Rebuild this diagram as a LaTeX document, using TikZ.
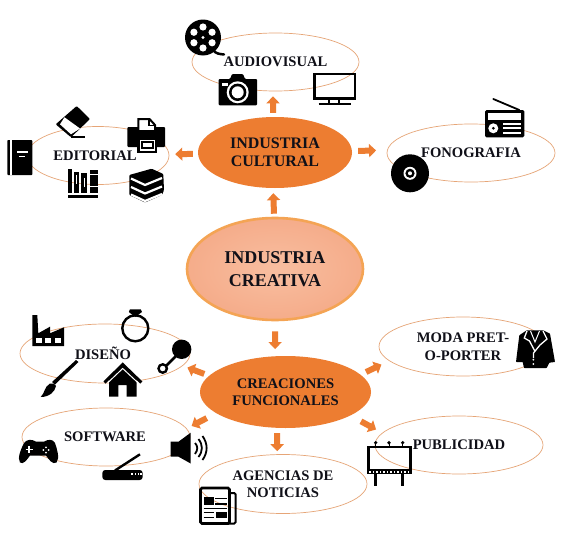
\documentclass[tikz,border=0pt]{standalone}
\usepackage{fontspec}
\setmainfont{Liberation Serif}
\usetikzlibrary{shapes.geometric,arrows.meta}
\definecolor{orangeA}{HTML}{ED7D31}
\definecolor{ringline}{HTML}{E6A577}
\definecolor{txt}{HTML}{101018}
\tikzset{
  outer/.style={ellipse,draw=ringline,line width=0.7pt,inner sep=0pt,align=center,text=txt,
    font=\fontsize{14.6}{17.5}\selectfont\bfseries},
  hub/.style={ellipse,fill=orangeA,inner sep=0pt,align=center,text=txt,
    font=\fontsize{14.6}{17.5}\selectfont\bfseries},
  hubbig/.style={hub,font=\fontsize{16}{18}\selectfont\bfseries},
  core/.style={ellipse,draw={rgb,255:red,244;green,164;blue,84},line width=2.6pt,inner color={rgb,255:red,248;green,190;blue,160},
    outer color={rgb,255:red,245;green,172;blue,138},inner sep=0pt,align=center,text=txt,
    font=\fontsize{18}{23}\selectfont\bfseries},
  blk/.style={draw=orangeA,line width=6pt,-{Triangle[length=7pt,width=13pt]},shorten <=#1},
  blk/.default=0pt,
  wl/.style={draw=white,line width=#1},
  wl/.default=1.5pt,
  bl/.style={draw=black,line width=#1},
  bl/.default=2.5pt
}
\begin{document}
\begin{tikzpicture}[x=1pt,y=-1pt]
\useasboundingbox (0,0) rectangle (563,538);
\fill[white] (0,0) rectangle (563,538);

% satellite ellipses
\node[outer,minimum width=167pt,minimum height=58pt] (audio) at (275.5,62) {AUDIOVISUAL};
\node[outer,minimum width=142pt,minimum height=58pt] (edit) at (98,155.5) {EDITORIAL\hspace*{6pt}};
\node[outer,minimum width=168pt,minimum height=58pt] (fono) at (471,153) {FONOGRAFIA};
\node[outer,minimum width=170pt,minimum height=59pt] (dis) at (105,353.5) {DISEÑO\hspace*{4pt}};
\node[outer,minimum width=168pt,minimum height=58pt] (soft) at (106,437) {SOFTWARE\hspace*{2pt}};
\node[outer,minimum width=168pt,minimum height=59pt] (agen) at (283,484) {AGENCIAS DE\\NOTICIAS};
\node[outer,minimum width=168pt,minimum height=59pt] (moda) at (463,346.5) {MODA PRET-\\O-PORTER};
\node[outer,minimum width=168pt,minimum height=58pt] (publi) at (459,445) {PUBLICIDAD};

% hubs
\node[hubbig,minimum width=154pt,minimum height=71pt] (cult) at (275,152.5) {INDUSTRIA\\CULTURAL};
\node[core,minimum width=176pt,minimum height=102pt] (crea) at (275,269) {INDUSTRIA\\CREATIVA};
\node[hub,minimum width=171pt,minimum height=72pt] (func) at (285.5,392) {CREACIONES\\FUNCIONALES};

% arrows
\draw[blk=4pt,shorten >=5pt] (cult.93) -- (audio.265);
\draw[blk=5pt,shorten >=6pt] (cult.181.1) -- (edit.1.2);
\draw[blk=6pt,shorten >=11pt] (cult.1.1) -- (fono.178.6);
\draw[blk=3pt,shorten >=5pt] (crea.91.3) -- (cult.267);
\draw[blk=10pt,shorten >=7pt] (crea.270) -- (func.106.4);
\draw[blk=5pt,shorten >=5pt] (func.168) -- (dis.-9.3);
\draw[blk=10.5pt,shorten >=5.5pt] (func.197.7) -- (soft.6);
\draw[blk=5pt,shorten >=3pt] (func.257) -- (agen.101.5);
\draw[blk=6pt,shorten >=8.5pt] (func.13.3) -- (moda.191.5);
\draw[blk=12pt,shorten >=7pt] (func.-20.6) -- (publi.171.2);

% film reel
\fill (203,37.5) circle[radius=18];
\draw[bl=2.5pt,line cap=round] (213,50) .. controls (216,54) and (220,54) .. (224,54.5);
\foreach \a in {90,150,210,270,330,30}
  \fill[white] (203,37.5) ++(\a:10.5pt) circle[radius=3.6];
\fill[white] (203,37.5) circle[radius=1.6];

% camera
\fill[rounded corners=1pt] (218.7,79) -- (230,79) -- (232,74) -- (243,74) -- (245,79) -- (257,79) -- (257,105.3) -- (218.7,105.3) -- cycle;
\fill[white] (237.7,92.3) circle[radius=11];
\fill (237.7,92.3) circle[radius=8.7];
\fill[white] (237.7,92.3) circle[radius=6];
\fill[white] (221.7,83.3) rectangle (227.5,86);

% television
\draw[bl=2.6pt] (314.6,74) rectangle (355,98.2);
\draw[bl=2pt] (329,99) -- (329,103.5) (339,99) -- (339,103.5);
\draw[bl=2pt] (318.5,104.3) -- (351,104.3);

% eraser
\fill[rounded corners=1pt] (76.7,106) -- (90,119) -- (71,137.3) -- (55.7,124.3) -- cycle;
\fill[white] (60,124.3) -- (64.5,117.3) -- (80,128.5) -- (71,134.3) -- cycle;
\draw[bl=1.8pt] (71,137.3) -- (85,137.3);

% printer
\fill[rounded corners=1pt] (127.3,127) rectangle (165,147);
\fill[white,draw=black,line width=2pt] (138.3,119) -- (149.5,119) -- (155,125) -- (155,131) -- (138.3,131) -- cycle;
\draw[bl=1.2pt] (149,119.5) -- (149,125.5) -- (155,125.5);
\fill[white,draw=black,line width=2.4pt] (138.3,138.7) rectangle (156,152);
\draw[bl=1.2pt] (142,142) rectangle (153,148);

% closed book
\fill[rounded corners=0.8pt] (7.3,140) rectangle (32.3,175);
\fill[white] (10,140) rectangle (11.8,175);
\fill[white] (17,151.2) rectangle (28,152.8);
\fill[white] (18.5,155.8) rectangle (25,157.2);

% shelf of books
\fill (68,168.5) rectangle (72,193);
\fill (73.5,171.5) rectangle (79,193);
\fill (81,173.3) rectangle (87.3,193);
\fill (90,170) rectangle (98.3,193);
\fill (68,195) rectangle (98.3,198);
\fill[white] (75.5,175) rectangle (77,184);
\fill[white] (83.5,178) rectangle (85,187);
\fill[white] (90,174) rectangle (98.3,175.3);
\fill[white] (90,186) rectangle (98.3,187.3);

% stack of books
\fill[rounded corners=1pt] (129.3,175) -- (151.7,168.7) -- (163.3,174) -- (164,190) -- (162,195) -- (145,202.5) -- (129.3,195) -- cycle;
\foreach \d in {0,8.5,16}
  \draw[wl=2.2pt] (131,178.5+\d) -- (145,185+\d) -- (162,178+\d);

% radio
\fill[rounded corners=1.5pt] (485,110) rectangle (524.3,137.3);
\draw[bl=1.8pt,line cap=round] (493.3,99) -- (519.3,110);
\fill[white] (488.3,113.3) rectangle (521,120);
\fill[white] (493.3,128.3) circle[radius=5];
\fill (493.3,128.3) circle[radius=1.5];
\foreach \yy in {124,128.3,132.7} \fill[white] (502.7,\yy-0.9) rectangle (521,\yy+0.9);

% disc
\fill (410,173.3) circle[radius=19];
\fill[white] (410,173.3) circle[radius=6.5];
\fill (410,173.3) circle[radius=4.6];
\fill[white] (410,173.3) circle[radius=2];

% factory
\fill (32.3,315) -- (37.3,315) -- (38.3,333.3) -- (50,326.7) -- (50,333.3) -- (64,327.3) -- (64,346) -- (32.3,346) -- cycle;
\fill[white] (35.7,338.3) rectangle (41.7,342.7);
\fill[white] (45,338.3) rectangle (50.5,342.7);
\fill[white] (55,338.3) rectangle (60.5,342.7);

% ring
\draw[bl=2.4pt] (135.3,328.3) circle[radius=13];
\fill (130,309.3) -- (140.7,309.3) -- (142,312) -- (135.3,317) -- (128.8,312) -- cycle;

% rattle
\fill (181.7,349.3) circle[radius=9.7];
\draw[bl=2.8pt] (176,356) -- (166,366);
\draw[bl=2.4pt] (162.7,368.5) circle[radius=4.2];

% brush
\fill (76,360) -- (78.5,362) -- (55,384.5) -- (52,382) -- cycle;
\fill (50,383.5) .. controls (53,382.5) and (55,384) .. (56,386) .. controls (55,392) and (49,397) .. (40.7,397) .. controls (45,393) and (44,387) .. (50,383.5) -- cycle;

% house
\fill (109,378) -- (122.7,366) -- (136.7,378) -- (136.7,396.7) -- (126.7,396.7) -- (126.7,385) -- (118.3,385) -- (118.3,396.7) -- (109,396.7) -- cycle;
\draw[bl=3pt] (104.5,382.5) -- (122.7,364.5) -- (141.3,382.5);
\draw[white,line width=1pt] (108,382.5) -- (122.7,368.5) -- (137.7,382.5);

% gamepad
\fill (24,443) .. controls (27,439) and (32,439) .. (36,441.7) -- (44,441.7) .. controls (48,439) and (53,439) .. (55,443)
  .. controls (57,449) and (60,458) .. (56.5,462.5) .. controls (53,465) and (49,460) .. (46,455.5)
  -- (30,455.5) .. controls (27,460) and (23,465) .. (20,462.5) .. controls (17,458) and (21,449) .. (24,443) -- cycle;
\draw[wl=1.4pt] (25.5,449.3) -- (32.5,449.3) (29,445.8) -- (29,452.8);
\foreach \dx/\dy in {-2.6/0,2.6/0,0/-2.6,0/2.6} \fill[white] (46+\dx,450+\dy) circle[radius=1];

% speaker
\fill (170.7,441.7) -- (178.5,441.7) -- (190.7,432.7) -- (190.7,463.5) -- (178.5,456.7) -- (170.7,456.7) -- cycle;
\draw[bl=1.8pt] (195,443) .. controls (198,446) and (198,450) .. (195,454);
\draw[bl=1.8pt] (198.5,439) .. controls (203,445) and (203,451) .. (198.5,457);
\draw[bl=1.8pt] (202.5,436) .. controls (208,444) and (208,452) .. (202.5,460);

% router
\fill[rounded corners=3pt] (102.3,470) rectangle (142.7,480);
\draw[bl=2.4pt] (115,470.5) -- (140,454.3);
\foreach \xx in {132,135.3,138.6,141} \fill[white] (\xx-0.7,473.3) rectangle (\xx+0.7,475);

% newspaper
\draw[bl=2pt,rounded corners=1.5pt] (229,493) -- (235.7,493) -- (235.7,523.5) -- (202,523.5);
\draw[bl=2.8pt,rounded corners=1.5pt] (200.5,488) rectangle (229.5,523.5);
\fill (203.7,497.3) rectangle (213.7,505);
\draw[bl=1.5pt] (215.3,498.5) -- (226.5,498.5) (215.3,504) -- (226.5,504) (203.7,508.3) -- (226.5,508.3)
  (203.7,512.3) -- (213.7,512.3) (203.7,517.7) -- (213.7,517.7);
\fill (216,511.7) rectangle (227,518.3);

% jacket
\fill[rounded corners=0.5pt] (526.7,330.3) -- (543.3,330.3) -- (550,333.7) -- (555,362) -- (549.3,362.7) -- (546.7,368) -- (524,368) -- (522.7,362) -- (516,362) -- (519.3,335.3) -- cycle;
\draw[wl=1.3pt] (527,331) -- (524.3,338) -- (529.5,341) -- (534.8,351);
\draw[wl=1.3pt] (543,331) -- (547,339) -- (540,345) -- (533.5,353) -- (533.5,358);
\draw[wl=1pt] (530.5,331) -- (535,342) -- (539.5,331);
\fill[white] (533.3,359.7) circle[radius=1];
\fill[white] (533.3,364) circle[radius=1];

% billboard
\draw[bl=2.4pt] (368.5,447) rectangle (410.5,470);
\foreach \xx in {375.7,389,402.7} {\fill (\xx,442.7) circle[radius=1.8]; \draw[bl=1pt] (\xx,442.7) -- (\xx,446);}
\fill (367.3,470) rectangle (411.5,474);
\foreach \xx in {370,373.5,...,410} \fill[white] (\xx-0.6,471) rectangle (\xx+0.6,472.5);
\fill (374,474) rectangle (377.3,486.3);
\fill (401,474) rectangle (404.3,486.3);
\end{tikzpicture}
\end{document}
